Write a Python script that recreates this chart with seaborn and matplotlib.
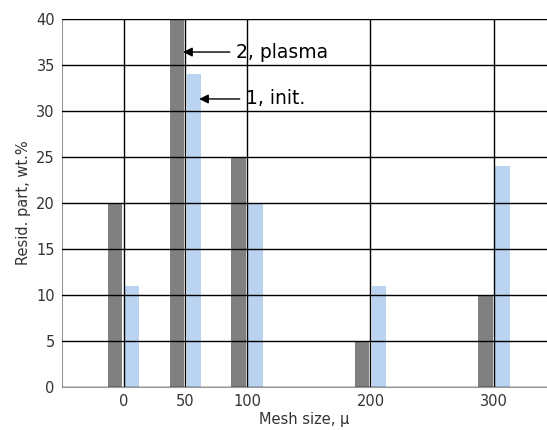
import matplotlib
matplotlib.use("Agg")
import matplotlib.pyplot as plt
import seaborn as sns
import pandas as pd

# tailles de maille et parts residuelles
mailles = [0, 50, 100, 200, 300]
plasma = [20, 40, 25, 5, 10]
initial = [11, 34, 20, 11, 24]
yticks = [0, 5, 10, 15, 20, 25, 30, 35, 40]

df = pd.DataFrame({
    "Mesh": mailles * 2,
    "Value": plasma + initial,
    "Serie": ["2, plasma"] * len(mailles) + ["1, init."] * len(mailles),
})

sns.set_style("white")
plt.rcParams["font.family"] = ["DejaVu Sans"]

fig = plt.figure(figsize=(5.47, 4.30), dpi=100)
ax = fig.add_axes([0.113, 0.10, 0.887, 0.856])

sns.barplot(data=df, x="Mesh", y="Value", hue="Serie", native_scale=True,
            hue_order=["2, plasma", "1, init."],
            palette=["#808080", "#b9d3f0"], width=0.55, gap=0.15,
            saturation=1, linewidth=0, legend=False, ax=ax, zorder=1)

ax.set_xlim(-50, 343)
ax.set_ylim(0, 40)
ax.set_xticks(mailles)
ax.set_yticks(yticks)
ax.grid(True, color="black", linewidth=1.0, zorder=2)
ax.set_axisbelow(False)
for b in ax.patches:
    b.set_zorder(1)
ax.spines["right"].set_visible(False)
for s in ["left", "bottom", "top"]:
    ax.spines[s].set_color("#999999")
ax.tick_params(length=0, labelsize=10.5, colors="#333333", pad=5)
ax.set_xlabel("Mesh size, µ", fontsize=10.5, color="#333333", labelpad=2)
ax.set_ylabel("Resid. part, wt.%", fontsize=10.5, color="#333333", labelpad=4)

ax.annotate("2, plasma", xy=(46, 36.4), xytext=(91, 36.4), fontsize=13.5,
            color="black", va="center",
            arrowprops=dict(arrowstyle="-|>", color="black", lw=1))
ax.annotate("1, init.", xy=(59, 31.3), xytext=(99, 31.3), fontsize=13.5,
            color="black", va="center",
            arrowprops=dict(arrowstyle="-|>", color="black", lw=1))

fig.savefig("out.png", dpi=100)
